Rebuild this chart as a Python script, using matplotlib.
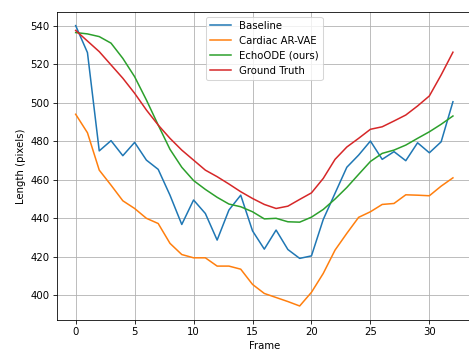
import matplotlib
matplotlib.use("Agg")
import matplotlib.pyplot as plt
import numpy as np

frames = list(range(33))
baseline = [540, 526, 475, 480.3, 472.5, 479.4, 470.2, 465.4, 452, 436.8, 449.5,
            442.5, 428.7, 444.3, 452, 433.5, 424, 433.9, 423.8, 419.2, 420.5,
            439.4, 453, 466.5, 472.8, 480.1, 470.6, 474.6, 469.9, 479.2, 474,
            479.7, 500.5]
cardiac = [494, 484.4, 465, 457.2, 449.1, 445.1, 440, 437.3, 427, 421.2, 419.5,
           419.5, 415.2, 415.2, 413.6, 405.7, 401, 398.9, 396.8, 394.5, 401.6,
           411.4, 423.5, 432.2, 440.5, 443.4, 447.2, 447.7, 452.2, 452, 451.7,
           456.7, 461]
echoode = [536.4, 535.7, 534.3, 530.9, 523, 513.5, 501.4, 488.4, 475.8, 466.5, 459.6,
           455, 450.9, 447.4, 446, 443.4, 439.7, 440, 438.2, 438, 440.6,
           444.6, 450, 456, 462.8, 469.5, 473.7, 475.4, 478, 481.5, 484.9,
           488.8, 493.1]
ground_truth = [537.5, 532, 526.5, 519.6, 512.7, 504.9, 496.2, 488.4, 481.5, 475.4, 470.2,
                465, 461.6, 457.8, 453.8, 450.3, 447.2, 445.1, 446.3, 449.8, 453.2,
                460.7, 470.6, 477, 481.5, 486.2, 487.5, 490.5, 493.6, 498.3, 503.5,
                514.4, 526.2]
labels = ["Baseline", "Cardiac AR-VAE", "EchoODE (ours)", "Ground Truth"]

dpi = 73.3
fig = plt.figure(figsize=(469 / dpi, 354 / dpi), dpi=dpi)
ax = fig.add_axes([56.8 / 469, 34 / 354, 415 / 469, 308.4 / 354])
for series, lab in zip([baseline, cardiac, echoode, ground_truth], labels):
    ax.plot(frames, series, label=lab)
ax.set_xlabel("Frame")
ax.set_ylabel("Length (pixels)")
ax.set_yticks(range(400, 541, 20))
ax.set_xticks(range(0, 31, 5))
ax.spines["right"].set_visible(False)
ax.grid(True)
ax.legend(loc="upper center")
fig.savefig("out.png", dpi=dpi)
